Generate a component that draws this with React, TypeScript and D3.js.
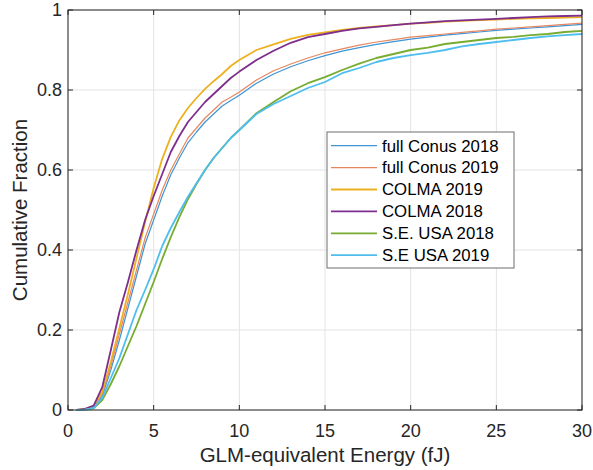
import React from "react";
import * as d3 from "d3";

const energy = [0.5, 1, 1.5, 2, 2.5, 3, 3.5, 4, 4.5, 5, 5.5, 6, 6.5, 7, 7.5, 8, 8.5, 9, 9.5, 10, 11, 12, 13, 14, 15, 16, 17, 18, 19, 20, 21, 22, 23, 24, 25, 26, 27, 28, 29, 30];

const fullConus2018 = [0, 0.002, 0.007, 0.035, 0.1, 0.175, 0.255, 0.335, 0.415, 0.475, 0.535, 0.588, 0.63, 0.668, 0.695, 0.72, 0.74, 0.76, 0.774, 0.787, 0.817, 0.84, 0.858, 0.873, 0.886, 0.897, 0.906, 0.914, 0.921, 0.927, 0.932, 0.937, 0.941, 0.945, 0.949, 0.952, 0.955, 0.958, 0.961, 0.964];
const fullConus2019 = [0, 0.002, 0.008, 0.04, 0.11, 0.19, 0.27, 0.35, 0.43, 0.49, 0.55, 0.6, 0.64, 0.68, 0.705, 0.73, 0.75, 0.77, 0.782, 0.795, 0.825, 0.848, 0.865, 0.88, 0.893, 0.903, 0.912, 0.92, 0.926, 0.932, 0.936, 0.94, 0.944, 0.948, 0.952, 0.955, 0.958, 0.961, 0.964, 0.967];
const colma2019 = [0, 0.003, 0.01, 0.045, 0.12, 0.205, 0.29, 0.38, 0.47, 0.555, 0.628, 0.683, 0.724, 0.755, 0.78, 0.803, 0.822, 0.84, 0.86, 0.875, 0.9, 0.914, 0.928, 0.938, 0.944, 0.95, 0.955, 0.959, 0.962, 0.966, 0.968, 0.971, 0.973, 0.975, 0.976, 0.978, 0.979, 0.98, 0.981, 0.982];
const colma2018 = [0, 0.003, 0.011, 0.057, 0.15, 0.245, 0.32, 0.4, 0.475, 0.535, 0.59, 0.645, 0.685, 0.72, 0.745, 0.77, 0.79, 0.81, 0.83, 0.846, 0.875, 0.898, 0.918, 0.932, 0.94, 0.948, 0.954, 0.958, 0.962, 0.966, 0.969, 0.972, 0.974, 0.976, 0.978, 0.98, 0.982, 0.984, 0.985, 0.986];
const seUsa2018 = [0, 0.001, 0.004, 0.025, 0.065, 0.11, 0.16, 0.21, 0.265, 0.32, 0.378, 0.432, 0.482, 0.527, 0.565, 0.6, 0.63, 0.655, 0.68, 0.7, 0.742, 0.77, 0.797, 0.817, 0.832, 0.85, 0.866, 0.88, 0.89, 0.9, 0.906, 0.915, 0.92, 0.925, 0.93, 0.933, 0.937, 0.94, 0.945, 0.948];
const seUsa2019 = [0, 0.001, 0.005, 0.03, 0.08, 0.13, 0.19, 0.25, 0.3, 0.352, 0.41, 0.455, 0.495, 0.533, 0.567, 0.6, 0.63, 0.655, 0.68, 0.7, 0.74, 0.765, 0.785, 0.805, 0.82, 0.842, 0.855, 0.87, 0.88, 0.887, 0.893, 0.9, 0.909, 0.915, 0.92, 0.925, 0.93, 0.934, 0.937, 0.94];

const seriesNames = ["full Conus 2018", "full Conus 2019", "COLMA 2019", "COLMA 2018", "S.E. USA 2018", "S.E USA 2019"];
const seriesValues = [fullConus2018, fullConus2019, colma2019, colma2018, seUsa2018, seUsa2019];
const seriesColors = ["#3f94d6", "#e8875f", "#EDB120", "#7E2F8E", "#77AC30", "#4DBEEE"];
const seriesWidths = [1.2, 1.2, 1.8, 1.8, 1.8, 1.8];

const xTicks = [0, 5, 10, 15, 20, 25, 30];
const yTicks = [0, 0.2, 0.4, 0.6, 0.8, 1];
const xLabel = "GLM-equivalent Energy (fJ)";
const yLabel = "Cumulative Fraction";

const W = 593, H = 470;
const M = { left: 68, top: 10, right: 582, bottom: 410 };
const FONT = "Arial, 'Liberation Sans', Helvetica, sans-serif";
const TXT = "#262626";

export default function App() {
  const x = d3.scaleLinear().domain([0, 30]).range([M.left, M.right]);
  const y = d3.scaleLinear().domain([0, 1]).range([M.bottom, M.top]);
  const line = d3.line<[number, number]>().x(d => x(d[0])).y(d => y(d[1]));
  const tick = 5;
  const lg = { x: 327, y: 132, w: 187, h: 136, row: 21.9, first: 145.7 };
  const drawOrder = [0, 1, 2, 3, 4, 5];
  return (
    <svg width={W} height={H} style={{ position: "absolute", left: 0, top: 0, background: "#fff" }} fontFamily={FONT}>
      <rect x={0} y={0} width={W} height={H} fill="#fff" />
      {xTicks.map(t => (
        <line key={"gx" + t} x1={x(t)} x2={x(t)} y1={M.top} y2={M.bottom} stroke="#e3e3e3" strokeWidth={1} />
      ))}
      {yTicks.map(t => (
        <line key={"gy" + t} x1={M.left} x2={M.right} y1={y(t)} y2={y(t)} stroke="#e3e3e3" strokeWidth={1} />
      ))}
      {drawOrder.map(i => (
        <path key={"s" + i} d={line(energy.map((e, k) => [e, seriesValues[i][k]]) as [number, number][]) || ""}
          fill="none" stroke={seriesColors[i]} strokeWidth={seriesWidths[i]} strokeLinejoin="round" />
      ))}
      <rect x={M.left} y={M.top} width={M.right - M.left} height={M.bottom - M.top} fill="none" stroke={TXT} strokeWidth={1} />
      {xTicks.map(t => (
        <g key={"tx" + t}>
          <line x1={x(t)} x2={x(t)} y1={M.bottom} y2={M.bottom - tick} stroke={TXT} />
          <line x1={x(t)} x2={x(t)} y1={M.top} y2={M.top + tick} stroke={TXT} />
          <text x={x(t)} y={437} textAnchor="middle" fontSize={18} fill={TXT}>{t}</text>
        </g>
      ))}
      {yTicks.map(t => (
        <g key={"ty" + t}>
          <line x1={M.left} x2={M.left + tick} y1={y(t)} y2={y(t)} stroke={TXT} />
          <line x1={M.right} x2={M.right - tick} y1={y(t)} y2={y(t)} stroke={TXT} />
          <text x={62} y={y(t)} dy="0.35em" textAnchor="end" fontSize={18} fill={TXT}>{t}</text>
        </g>
      ))}
      <text x={(M.left + M.right) / 2} y={462} textAnchor="middle" fontSize={20.5} fill={TXT}>{xLabel}</text>
      <text transform={`translate(27,${(M.top + M.bottom) / 2}) rotate(-90)`} textAnchor="middle" fontSize={20.5} fill={TXT}>{yLabel}</text>
      <rect x={lg.x} y={lg.y} width={lg.w} height={lg.h} fill="#fff" stroke="#6e6e6e" strokeWidth={1} />
      {seriesNames.map((n, i) => (
        <g key={"l" + i}>
          <line x1={331} x2={377} y1={lg.first + i * lg.row} y2={lg.first + i * lg.row} stroke={seriesColors[i]} strokeWidth={seriesWidths[i]} />
          <text x={382} y={lg.first + i * lg.row} dy="0.35em" fontSize={16.8} fill="#000">{n}</text>
        </g>
      ))}
    </svg>
  );
}
